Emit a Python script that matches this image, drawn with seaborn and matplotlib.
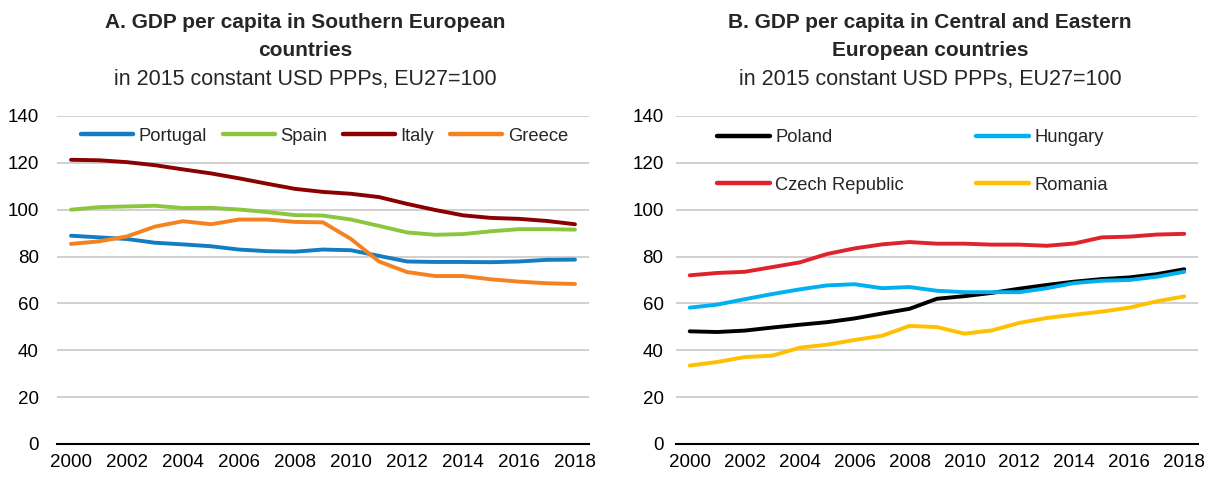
import numpy as np
import pandas as pd
import matplotlib
matplotlib.use("Agg")
import matplotlib.pyplot as plt
import seaborn as sns
from matplotlib.ticker import FixedLocator
from matplotlib.lines import Line2D

years = list(range(2000, 2019))

portugal = [88.9, 88.2, 87.5, 85.9, 85.2, 84.4, 83.0, 82.3, 82.1, 83.0, 82.7, 80.3, 77.9, 77.7, 77.7, 77.6, 77.9, 78.6, 78.7]
spain = [100.0, 101.1, 101.4, 101.7, 100.7, 100.8, 100.1, 99.0, 97.7, 97.5, 95.8, 93.1, 90.3, 89.3, 89.6, 90.8, 91.7, 91.7, 91.5]
italy = [121.3, 121.1, 120.3, 119.0, 117.2, 115.5, 113.4, 111.1, 108.9, 107.6, 106.8, 105.4, 102.5, 99.9, 97.6, 96.5, 96.1, 95.2, 93.8]
greece = [85.4, 86.5, 88.6, 92.8, 95.1, 93.8, 95.8, 95.8, 94.8, 94.6, 87.5, 77.9, 73.4, 71.7, 71.7, 70.3, 69.3, 68.6, 68.3]

poland = [48.1, 47.8, 48.4, 49.7, 50.9, 52.0, 53.6, 55.7, 57.7, 62.0, 63.1, 64.5, 66.3, 67.9, 69.3, 70.4, 71.1, 72.5, 74.6]
hungary = [58.2, 59.5, 61.8, 64.0, 66.0, 67.7, 68.2, 66.5, 67.0, 65.4, 64.8, 64.8, 64.8, 66.5, 68.7, 69.7, 70.0, 71.4, 73.5]
czech = [72.0, 73.0, 73.5, 75.5, 77.5, 81.1, 83.5, 85.2, 86.2, 85.5, 85.5, 85.1, 85.1, 84.6, 85.6, 88.2, 88.5, 89.4, 89.7]
romania = [33.5, 35.0, 37.1, 37.7, 41.1, 42.4, 44.4, 46.2, 50.4, 49.9, 47.1, 48.5, 51.7, 53.8, 55.2, 56.5, 58.2, 60.9, 63.0]

south_names = ["Portugal", "Spain", "Italy", "Greece"]
south_values = [portugal, spain, italy, greece]
south_colors = ["#137CC2", "#8CC63F", "#8B0000", "#F58220"]

cee_names = ["Poland", "Hungary", "Czech Republic", "Romania"]
cee_values = [poland, hungary, czech, romania]
cee_colors = ["#000000", "#00B0F0", "#E0222A", "#FFC000"]

yticks = [0, 20, 40, 60, 80, 100, 120, 140]
xlabels = list(range(2000, 2019, 2))

title_a = ["A. GDP per capita in Southern European", "countries"]
title_b = ["B. GDP per capita in Central and Eastern", "European countries"]
subtitle = "in 2015 constant USD PPPs, EU27=100"

sns.set_theme(style="white")
plt.rcParams["font.family"] = ["Liberation Sans", "DejaVu Sans"]
TICK_FS = 13.5
LEG_FS = 13.2


def long_df(names, values):
    rows = []
    for n, vals in zip(names, values):
        for y, v in zip(years, vals):
            rows.append({"year": y, "country": n, "value": v})
    return pd.DataFrame(rows)


fig = plt.figure(figsize=(12.12, 4.78), dpi=100)
axA = fig.add_axes([57 / 1212, 34 / 478, 532 / 1212, 328 / 478])
axB = fig.add_axes([676 / 1212, 34 / 478, 522 / 1212, 328 / 478])


def style_axis(ax, ypad):
    ax.set_xlim(1999.5, 2018.5)
    ax.set_ylim(0, 140)
    ax.set_yticks(yticks)
    ax.set_yticklabels([str(t) for t in yticks], fontsize=TICK_FS)
    ax.set_xticks(xlabels)
    ax.set_xticklabels([str(t) for t in xlabels], fontsize=TICK_FS)
    ax.xaxis.set_minor_locator(FixedLocator(np.arange(1999.5, 2019.0, 1.0)))
    ax.tick_params(axis="x", which="major", length=0, pad=7, colors="#000000")
    ax.tick_params(axis="x", which="minor", direction="in", length=5, width=1.3, color="#000000")
    ax.tick_params(axis="y", length=0, pad=ypad, colors="#000000")
    ax.yaxis.grid(True, color="#C8C8C8", linewidth=1.2)
    ax.xaxis.grid(False)
    ax.set_axisbelow(True)
    for s in ["left", "right", "top"]:
        ax.spines[s].set_visible(False)
    ax.spines["bottom"].set_color("#000000")
    ax.spines["bottom"].set_linewidth(1.5)
    ax.set_xlabel("")
    ax.set_ylabel("")
    ax.set_facecolor("white")


dfA = long_df(south_names, south_values)
sns.lineplot(data=dfA, x="year", y="value", hue="country", hue_order=south_names,
             palette=south_colors, linewidth=2.8, ax=axA, legend=False,
             solid_capstyle="round")
dfB = long_df(cee_names, cee_values)
sns.lineplot(data=dfB, x="year", y="value", hue="country", hue_order=cee_names,
             palette=cee_colors, linewidth=2.8, ax=axB, legend=False,
             solid_capstyle="round")

style_axis(axA, 13)
style_axis(axB, 9)

hA = [Line2D([0], [0], color=c, lw=3.2, solid_capstyle="round") for c in south_colors]
axA.legend(hA, south_names, loc="center left", bbox_to_anchor=(0.045, 0.939),
           ncol=4, frameon=False, handlelength=2.85, handletextpad=0.3,
           columnspacing=0.85, borderpad=0, borderaxespad=0,
           prop={"size": LEG_FS})

# column-wise fill: col 1 = Poland, Czech Republic; col 2 = Hungary, Romania
orderB = [0, 2, 1, 3]
hB = [Line2D([0], [0], color=cee_colors[i], lw=3.2, solid_capstyle="round") for i in orderB]
axB.legend(hB, [cee_names[i] for i in orderB], loc="center left",
           bbox_to_anchor=(0.078, 0.861), ncol=2, frameon=False,
           handlelength=2.9, handletextpad=0.3, columnspacing=3.9,
           labelspacing=1.65, borderpad=0, borderaxespad=0,
           prop={"size": LEG_FS})

for cx, lines in [(305 / 1212, title_a), (930 / 1212, title_b)]:
    fig.text(cx, 1 - 22 / 478, lines[0], ha="center", va="center",
             fontsize=15, fontweight="bold")
    fig.text(cx, 1 - 50 / 478, lines[1], ha="center", va="center",
             fontsize=15, fontweight="bold")
    fig.text(cx, 1 - 80 / 478, subtitle, ha="center", va="center",
             fontsize=15.5)

fig.savefig("out.png", dpi=100, facecolor="white")
